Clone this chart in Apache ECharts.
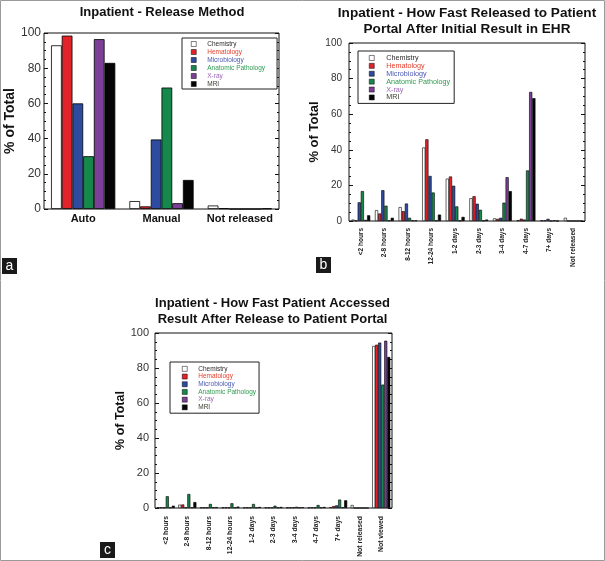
<!DOCTYPE html>
<html><head><meta charset="utf-8">
<script src="https://cdn.jsdelivr.net/npm/echarts@6/dist/echarts.min.js"></script>
<style>html,body{margin:0;padding:0;background:#fff}#c{width:605px;height:561px}</style>
</head><body><div id="c"></div>
<script>
// ---- data ----
const seriesNames = ['Chemistry', 'Hematology', 'Microbiology', 'Anatomic Pathology', 'X-ray', 'MRI'];

const catsA = ['Auto', 'Manual', 'Not released'];
const aChemistry = [93, 4.5, 2];
const aHematology = [98.5, 1.5, 0.4];
const aMicrobiology = [60, 39.5, 0];
const aAnatomic = [30, 69, 0];
const aXray = [96.5, 3.3, 0];
const aMRI = [83, 16.5, 0.3];

const catsB = ['<2 hours', '2-8 hours', '8-12 hours', '12-24 hours', '1-2 days', '2-3 days', '3-4 days', '4-7 days', '7+ days', 'Not released'];
const bChemistry = [0.8, 6.1, 7.8, 41.3, 23.8, 12.8, 1.5, 0.3, 0.3, 1.8];
const bHematology = [0.2, 4.2, 5.5, 45.9, 25, 13.9, 1.2, 1.3, 0.3, 0];
const bMicrobiology = [10.5, 17.3, 9.8, 25.3, 19.8, 9.7, 1.8, 0.8, 1.2, 0];
const bAnatomic = [16.8, 8.6, 1.8, 16, 8.2, 6.3, 10.3, 28.4, 0, 0];
const bXray = [0.6, 0.3, 0.3, 0.3, 0.2, 0.2, 24.6, 72.5, 0.3, 0];
const bMRI = [3.2, 1.8, 0.3, 3.6, 2.3, 0.8, 16.8, 69, 0, 0];

const catsC = ['<2 hours', '2-8 hours', '8-12 hours', '12-24 hours', '1-2 days', '2-3 days', '3-4 days', '4-7 days', '7+ days', 'Not released', 'Not viewed'];
const cChemistry = [0.3, 1.9, 0.3, 0.3, 0.3, 0.3, 0.3, 0.3, 0.5, 1.7, 92.6];
const cHematology = [0.3, 2.0, 0.3, 0.3, 0.3, 0.3, 0.3, 0.3, 1.1, 0, 93.3];
const cMicrobiology = [0.3, 0.3, 0.3, 0.3, 0.3, 0.3, 0.3, 0.3, 1.5, 0, 94.5];
const cAnatomic = [6.7, 8.0, 2.3, 2.7, 2.3, 1.3, 0.7, 1.7, 4.8, 0, 70.5];
const cXray = [0.3, 0.3, 0.3, 0.3, 0.3, 0.3, 0.3, 0.3, 0.4, 0, 95.6];
const cMRI = [1.3, 3.4, 0.5, 0.8, 0.6, 0.6, 0.4, 0.6, 4.4, 0, 86.3];

const yTicks = [0, 20, 40, 60, 80, 100];

// ---- styles ----
const FONT = '"Liberation Sans", Arial, Helvetica, sans-serif';
const barColors = ['#ffffff', '#e3232a', '#2f4ba0', '#17884b', '#7b3f98', '#050505'];
const legendTextColors = ['#2a2a2a', '#e5402f', '#4a58b2', '#2f9a50', '#9b66b6', '#3b3a30'];

const panels = [
  { cats: catsA, data: [aChemistry, aHematology, aMicrobiology, aAnatomic, aXray, aMRI],
    grid: { left: 44, top: 33, width: 235, height: 176 },
    gap: '18%', bw: 0.8,
    xLabel: { fontSize: 11, fontWeight: 'bold', color: '#111', margin: 4, rotate: 0 },
    yLabel: { fontSize: 12, margin: 3 }, nameSize: 14, nameGap: 26,
    legend: { left: 182, top: 38, fontSize: 6.5, lh: 8, pad: [2, 12, 1, 9], tp: 6 } },
  { cats: catsB, data: [bChemistry, bHematology, bMicrobiology, bAnatomic, bXray, bMRI],
    grid: { left: 349, top: 43, width: 236, height: 178 },
    gap: '20%', bw: 0.6,
    xLabel: { fontSize: 6.5, fontWeight: 'bold', color: '#222', margin: 7, rotate: 90 },
    yLabel: { fontSize: 10, margin: 7 }, nameSize: 13, nameGap: 22,
    legend: { left: 358, top: 51, fontSize: 7.2, lh: 7.9, pad: [3, 4, 2, 11], tp: 7 } },
  { cats: catsC, data: [cChemistry, cHematology, cMicrobiology, cAnatomic, cXray, cMRI],
    grid: { left: 155, top: 333, width: 237, height: 175 },
    gap: '16%', bw: 0.6,
    xLabel: { fontSize: 6.8, fontWeight: 'bold', color: '#222', margin: 8, rotate: 90 },
    yLabel: { fontSize: 11, margin: 6 }, nameSize: 12.5, nameGap: 25,
    legend: { left: 170, top: 362, fontSize: 6.5, lh: 7.7, pad: [3, 3, 2, 12], tp: 6 } }
];

const grids = [], xAxes = [], yAxes = [], series = [], legends = [];
panels.forEach((p, i) => {
  grids.push(Object.assign({ show: true, borderColor: '#111', borderWidth: 1, backgroundColor: 'transparent' }, p.grid));
  xAxes.push({
    type: 'category', gridIndex: i, data: p.cats,
    axisLine: { show: false }, axisTick: { show: false },
    axisLabel: Object.assign({ fontFamily: FONT, interval: 0 }, p.xLabel)
  });
  const yBase = {
    type: 'value', gridIndex: i, min: yTicks[0], max: yTicks[yTicks.length - 1], interval: yTicks[1] - yTicks[0],
    axisLine: { show: false }, splitLine: { show: false },
    axisTick: { show: true, inside: true, length: 4, lineStyle: { color: '#111', width: 1 } },
    minorTick: { show: true, splitNumber: 4, length: 2, lineStyle: { color: '#111', width: 1 } }
  };
  yAxes.push(Object.assign({}, yBase, {
    position: 'left',
    axisLabel: { fontFamily: FONT, fontSize: p.yLabel.fontSize, color: '#333', margin: p.yLabel.margin },
    name: '% of Total', nameLocation: 'middle', nameGap: p.nameGap,
    nameTextStyle: { fontFamily: FONT, fontWeight: 'bold', fontSize: p.nameSize, color: '#111' }
  }));
  yAxes.push(Object.assign({}, yBase, { position: 'right', axisLabel: { show: false } }));
  seriesNames.forEach((name, k) => {
    series.push({
      type: 'bar', name: name, xAxisIndex: i, yAxisIndex: 2 * i,
      data: p.data[k], barGap: '0%', barCategoryGap: p.gap,
      itemStyle: { color: barColors[k], borderColor: '#000', borderWidth: p.bw },
      emphasis: { disabled: true }, animation: false
    });
  });
  legends.push({
    left: p.legend.left, top: p.legend.top, orient: 'vertical', icon: 'rect',
    itemWidth: 5, itemHeight: 5, itemGap: 0, padding: p.legend.pad,
    borderColor: '#222', borderWidth: 1, backgroundColor: '#fff',
    selectedMode: false,
    itemStyle: { borderColor: '#000', borderWidth: 0.5 },
    textStyle: { fontFamily: FONT, fontSize: p.legend.fontSize, lineHeight: p.legend.lh, padding: [0, 0, 0, p.legend.tp] },
    data: seriesNames.map((n, k) => ({ name: n, itemStyle: { color: barColors[k], borderColor: '#000', borderWidth: 0.5 }, textStyle: { color: legendTextColors[k] } }))
  });
});

function txt(text, x, y, size) {
  return { type: 'text', silent: true, style: { text: text, x: x, y: y, textAlign: 'center', textVerticalAlign: 'middle', align: 'center', verticalAlign: 'middle', font: 'bold ' + size + 'px ' + FONT, fill: '#111' } };
}
function tag(letter, x, y) {
  return { type: 'group', silent: true, children: [
    { type: 'rect', shape: { x: x, y: y, width: 15, height: 16 }, style: { fill: '#1a1a1a' } },
    { type: 'text', style: { text: letter, x: x + 7.5, y: y + 8, textAlign: 'center', textVerticalAlign: 'middle', align: 'center', verticalAlign: 'middle', font: '14px ' + FONT, fill: '#fff' } }
  ] };
}

const graphics = [
  { type: 'rect', silent: true, shape: { x: 0.5, y: 0.5, width: 604, height: 560 }, style: { fill: 'none', stroke: '#9a9a9a', lineWidth: 1 } },
  txt('Inpatient - Release Method', 162, 12, 13),
  txt('Inpatient - How Fast Released to Patient', 467, 13, 13.6),
  txt('Portal After Initial Result in EHR', 467, 29, 13.6),
  txt('Inpatient - How Fast Patient Accessed', 272.5, 303.5, 13),
  txt('Result After Release to Patient Portal', 272.5, 319.5, 13),
  tag('a', 2, 258),
  tag('b', 316, 257),
  tag('c', 100, 542)
];

const chart = echarts.init(document.getElementById('c'), null, { renderer: 'canvas' });
chart.setOption({
  animation: false,
  textStyle: { fontFamily: FONT },
  grid: grids, xAxis: xAxes, yAxis: yAxes, series: series, legend: legends,
  graphic: graphics
});
</script></body></html>
